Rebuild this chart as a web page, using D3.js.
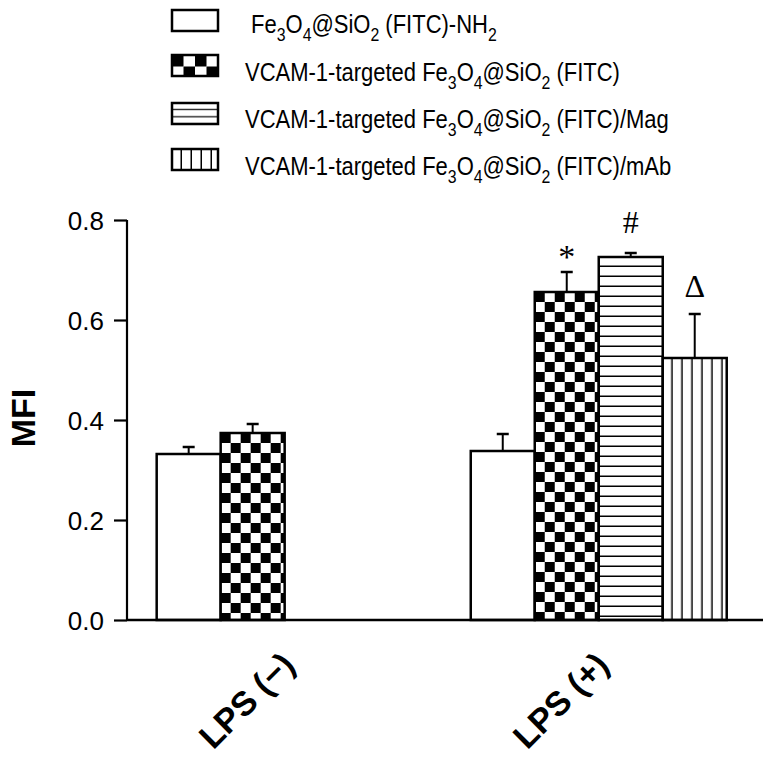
<!DOCTYPE html>
<html><head><meta charset="utf-8">
<script src="https://cdn.jsdelivr.net/npm/d3@7"></script>
<style>body{margin:0;background:#fff}svg{display:block}</style>
</head><body>
<svg id="chart" width="780" height="766"></svg>
<script>
// ---------- DATA ----------
const groups = ["LPS (\u2212)", "LPS (+)"];
const seriesKeys = ["nh2", "vcam", "mag", "mab"];
const seriesLabels = [
  [[" Fe",""],["3","s"],["O",""],["4","s"],["@SiO",""],["2","s"],[" (FITC)-NH",""],["2","s"]],
  [["VCAM-1-targeted Fe",""],["3","s"],["O",""],["4","s"],["@SiO",""],["2","s"],[" (FITC)",""]],
  [["VCAM-1-targeted Fe",""],["3","s"],["O",""],["4","s"],["@SiO",""],["2","s"],[" (FITC)/Mag",""]],
  [["VCAM-1-targeted Fe",""],["3","s"],["O",""],["4","s"],["@SiO",""],["2","s"],[" (FITC)/mAb",""]]
];
const valuesNH2  = [0.332, 0.338];
const valuesVCAM = [0.374, 0.656];
const valuesMag  = [null, 0.726];
const valuesMAb  = [null, 0.524];
const errNH2  = [0.014, 0.034];
const errVCAM = [0.018, 0.040];
const errMag  = [null, 0.008];
const errMAb  = [null, 0.088];
const marksVCAM = [null, "*"];
const marksMag  = [null, "#"];
const marksMAb  = [null, "\u0394"];
const yTicks = [0.0, 0.2, 0.4, 0.6, 0.8];
const yLabel = "MFI";

const seriesValues = [valuesNH2, valuesVCAM, valuesMag, valuesMAb];
const seriesErr = [errNH2, errVCAM, errMag, errMAb];
const seriesMarks = [[null,null], marksVCAM, marksMag, marksMAb];
const fills = ["#fff", "url(#pChecker)", "url(#pHoriz)", "url(#pVert)"];
const legFills = ["#fff", "url(#lChecker)", "url(#lHoriz)", "url(#pVert)"];

// ---------- LAYOUT ----------
const svg = d3.select("#chart");
const x0 = 127, x1 = 763, yBase = 620;
const y = d3.scaleLinear().domain([0, 0.8]).range([620, 220]);
const gx = d3.scaleBand().domain(groups).range([x0, x1])
  .paddingInner(0.185).paddingOuter(0.105).align(0.45);
const sx = d3.scaleBand().domain(seriesKeys).range([0, gx.bandwidth()]).padding(0);

// ---------- PATTERNS ----------
const defs = svg.append("defs");
function checker(id, s) {
  const p = defs.append("pattern").attr("id",id).attr("patternUnits","userSpaceOnUse")
    .attr("width",2*s).attr("height",2*s);
  p.append("rect").attr("width",2*s).attr("height",2*s).attr("fill","#fff");
  p.append("rect").attr("x",0).attr("y",0).attr("width",s).attr("height",s).attr("fill","#000");
  p.append("rect").attr("x",s).attr("y",s).attr("width",s).attr("height",s).attr("fill","#000");
}
function horiz(id, s, off) {
  const p = defs.append("pattern").attr("id",id).attr("patternUnits","userSpaceOnUse")
    .attr("width",10).attr("height",s);
  p.append("rect").attr("width",10).attr("height",s).attr("fill","#fff");
  p.append("rect").attr("x",0).attr("y",off).attr("width",10).attr("height",2.5).attr("fill","#000");
}
checker("pChecker", 10);
checker("lChecker", 11.5);
horiz("pHoriz", 10, 8.5);
horiz("lHoriz", 7.2, 6);
const pv = defs.append("pattern").attr("id","pVert").attr("patternUnits","userSpaceOnUse")
  .attr("width",10).attr("height",10);
pv.append("rect").attr("width",10).attr("height",10).attr("fill","#fff");
pv.append("rect").attr("x",8.5).attr("y",0).attr("width",2.5).attr("height",10).attr("fill","#000");

// ---------- BARS ----------
seriesKeys.forEach((k, si) => {
  groups.forEach((g, gi) => {
    const v = seriesValues[si][gi];
    if (v == null) return;
    const bx = gx(g) + sx(k), bw = sx.bandwidth();
    const top = y(v);
    const e = seriesErr[si][gi];
    const cx = bx + bw / 2;
    svg.append("line").attr("x1",cx).attr("x2",cx).attr("y1",top).attr("y2",y(v+e))
      .attr("stroke","#000").attr("stroke-width",2);
    svg.append("line").attr("x1",cx-6).attr("x2",cx+6).attr("y1",y(v+e)).attr("y2",y(v+e))
      .attr("stroke","#000").attr("stroke-width",2.5);
    const bg = svg.append("g").attr("transform",`translate(${bx},${top})`);
    bg.append("rect").attr("x",0).attr("y",0).attr("width",bw).attr("height",yBase-top)
      .attr("fill",fills[si]).attr("stroke","#000").attr("stroke-width",2.5);
    const m = seriesMarks[si][gi];
    if (m) {
      const dyOff = m === "*" ? 4 : (m === "#" ? 20 : 17);
      svg.append("text").attr("x",cx).attr("y",y(v+e)-dyOff)
        .attr("text-anchor","middle").attr("font-family","Liberation Serif, serif")
        .attr("font-size", m === "*" ? 34 : 32).text(m);
    }
  });
});

// ---------- AXES ----------
const yAxis = d3.axisLeft(y).tickValues(yTicks).tickFormat(d3.format(".1f")).tickSize(13).tickPadding(10);
const ya = svg.append("g").attr("transform",`translate(${x0},0)`).call(yAxis);
ya.select(".domain").attr("stroke","#000").attr("stroke-width",2.2).attr("d",`M0,${y(0.8)}V${yBase}`);
ya.selectAll(".tick line").attr("stroke","#000").attr("stroke-width",2.2);
ya.selectAll(".tick text").attr("font-family","Liberation Sans, Arial, sans-serif")
  .attr("font-size",26).attr("fill","#000").attr("dy","0.36em");

svg.append("line").attr("x1",x0).attr("x2",x1).attr("y1",yBase).attr("y2",yBase)
  .attr("stroke","#000").attr("stroke-width",2.5);

svg.append("text").attr("transform","translate(35,418) rotate(-90)")
  .attr("text-anchor","middle").attr("font-family","Liberation Sans, Arial, sans-serif")
  .attr("font-weight","bold").attr("font-size",34).text(yLabel);

groups.forEach(g => {
  const cx = gx(g) + gx.bandwidth()/2;
  svg.append("text").attr("transform",`translate(${cx+12},${667}) rotate(-45)`)
    .attr("text-anchor","end").attr("font-family","Liberation Sans, Arial, sans-serif")
    .attr("font-weight","bold").attr("font-size",34).text(g);
});

// ---------- LEGEND ----------
const legTops = [10, 55, 103, 149];
const legBase = [33, 81, 128, 175];
seriesKeys.forEach((k, i) => {
  const gg = svg.append("g").attr("transform",`translate(172,${legTops[i]})`);
  gg.append("rect").attr("width",46).attr("height",21).attr("fill",legFills[i])
    .attr("stroke","#000").attr("stroke-width",2.5);
  const t = svg.append("text").attr("transform",`translate(245,${legBase[i]}) scale(0.88,1)`)
    .attr("font-family","Liberation Sans, Arial, sans-serif").attr("font-size",25)
    .attr("fill","#000").style("white-space","pre");
  let prevSub = false;
  seriesLabels[i].forEach(([s, kind]) => {
    const sp = t.append("tspan").text(s);
    if (kind === "s") { sp.attr("font-size",18).attr("dy",prevSub ? 0 : 8); prevSub = true; }
    else { if (prevSub) sp.attr("dy",-8); prevSub = false; }
  });
});
</script>
</body></html>
